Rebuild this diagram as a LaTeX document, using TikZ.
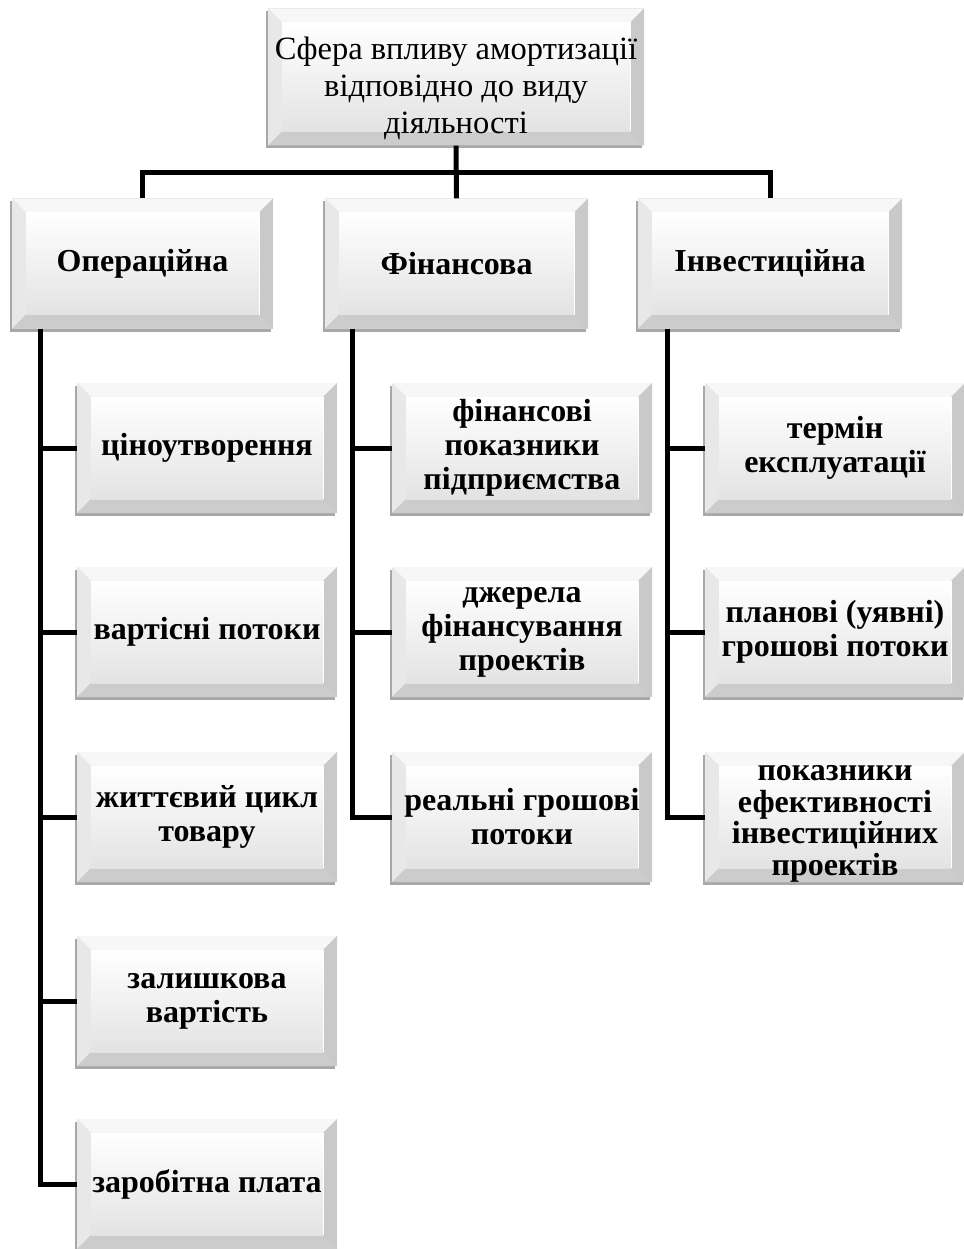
\documentclass[tikz,border=0pt]{standalone}
\usepackage{fontspec}
\setmainfont{Liberation Serif}
\usetikzlibrary{calc,shadows}

\begin{document}
\begin{tikzpicture}[x=1pt,y=-1pt,
  % bevelled, softly shaded button box
  bevelbox/.style={rectangle, inner xsep=2pt, inner ysep=0pt, align=center, fill=gray!35,
    drop shadow={shadow xshift=-2.5pt, shadow yshift=-3pt, fill=gray!75, opacity=0.9},
    path picture={
      \def\bw{14pt}
      % top bevel
      \fill[gray!6] let \p1=(path picture bounding box.south west), \p2=(path picture bounding box.north east) in
        (\x1,\y2) -- (\x2,\y2) -- (\x2-\bw,\y2-\bw) -- (\x1+\bw,\y2-\bw) -- cycle;
      % left bevel
      \fill[gray!18] let \p1=(path picture bounding box.south west), \p2=(path picture bounding box.north east) in
        (\x1,\y2) -- (\x1+\bw,\y2-\bw) -- (\x1+\bw,\y1+\bw) -- (\x1,\y1) -- cycle;
      % right bevel
      \fill[gray!42] let \p1=(path picture bounding box.south west), \p2=(path picture bounding box.north east) in
        (\x2,\y2) -- (\x2-\bw,\y2-\bw) -- (\x2-\bw,\y1+\bw) -- (\x2,\y1) -- cycle;
      % bottom bevel
      \fill[gray!40] let \p1=(path picture bounding box.south west), \p2=(path picture bounding box.north east) in
        (\x1,\y1) -- (\x1+\bw,\y1+\bw) -- (\x2-\bw,\y1+\bw) -- (\x2,\y1) -- cycle;
      % face
      \shade[top color=white, bottom color=gray!22] let \p1=(path picture bounding box.south west), \p2=(path picture bounding box.north east) in
        (\x1+\bw,\y1+\bw) rectangle (\x2-\bw,\y2-\bw);
      % thin highlight along the inner right edge
      \draw[white, line width=1pt] let \p1=(path picture bounding box.south west), \p2=(path picture bounding box.north east) in
        (\x2-\bw,\y2-\bw) -- (\x2-\bw,\y1+\bw);
    }},
  headbox/.style={bevelbox, minimum width=376pt, minimum height=137pt},
  headtext/.style={align=center, inner sep=0pt, font=\fontsize{32.5}{37}\selectfont},
  catbox/.style={bevelbox, minimum height=130pt,
    font=\fontsize{32}{34}\selectfont\bfseries},
  itembox/.style={bevelbox, minimum width=260pt, minimum height=130pt,
    font=\fontsize{32}{34}\selectfont\bfseries},
  itemtext/.style={align=center, inner sep=0pt, font=\fontsize{32}{31.5}\selectfont\bfseries},
  conn/.style={line width=5pt, black}
]
\useasboundingbox (0,0) rectangle (963,1249);

% root
\node[headbox] (root) at (456,77) {};
\node[headtext] (roottext) at ([yshift=-11pt]root.center) {Сфера впливу амортизації\\відповідно до виду\\діяльності};

% activity categories
\node[catbox, minimum width=261pt] (op)  at (142.5,263.5) {Операційна};
\node[catbox, minimum width=263pt] (fin) at (456.5,263.5) {Фінансова};
\node[catbox, minimum width=264pt] (inv) at (770,263.5)   {Інвестиційна};

% operating activity
\node[itembox] (op1) at (207,448)  {ціноутворення};
\node[itembox] (op2) at (207,632)  {вартісні потоки};
\node[itembox] (op3) at (207,817)  {життєвий цикл\\товару};
\node[itembox] (op4) at (207,1001) {залишкова\\вартість};
\node[itembox] (op5) at (207,1184) {заробітна плата};

% financial activity
\node[itembox] (fin1) at (522,448) {фінансові\\показники\\підприємства};
\node[itembox] (fin2) at (522,632) {джерела\\фінансування\\проектів};
\node[itembox] (fin3) at (522,817) {реальні грошові\\потоки};

% investment activity
\node[itembox] (inv1) at (835,448) {термін\\експлуатації};
\node[itembox] (inv2) at (835,632) {планові (уявні)\\грошові потоки};
\node[itembox] (inv3) at (835,817) {};
\node[itemtext] (inv3text) at ([yshift=-7pt]inv3.center)
  {показники\\ефективності\\інвестиційних\\проектів};

% connectors: root to categories
\coordinate (bus) at (456,173);
\draw[conn] (root.south) -- (fin.north);
\draw[conn] (op.north) -- (op.north |- bus) -- (inv.north |- bus) -- (inv.north);

% connectors: categories to items
\coordinate (opbus)  at (40,328.5);
\coordinate (finbus) at (352,328.5);
\coordinate (invbus) at (667,328.5);

\draw[conn] (opbus) |- (op5.west);
\foreach \n in {op1,op2,op3,op4} \draw[conn] (opbus |- \n.west) -- (\n.west);

\draw[conn] (finbus) |- (fin3.west);
\foreach \n in {fin1,fin2} \draw[conn] (finbus |- \n.west) -- (\n.west);

\draw[conn] (invbus) |- (inv3.west);
\foreach \n in {inv1,inv2} \draw[conn] (invbus |- \n.west) -- (\n.west);
\end{tikzpicture}
\end{document}
